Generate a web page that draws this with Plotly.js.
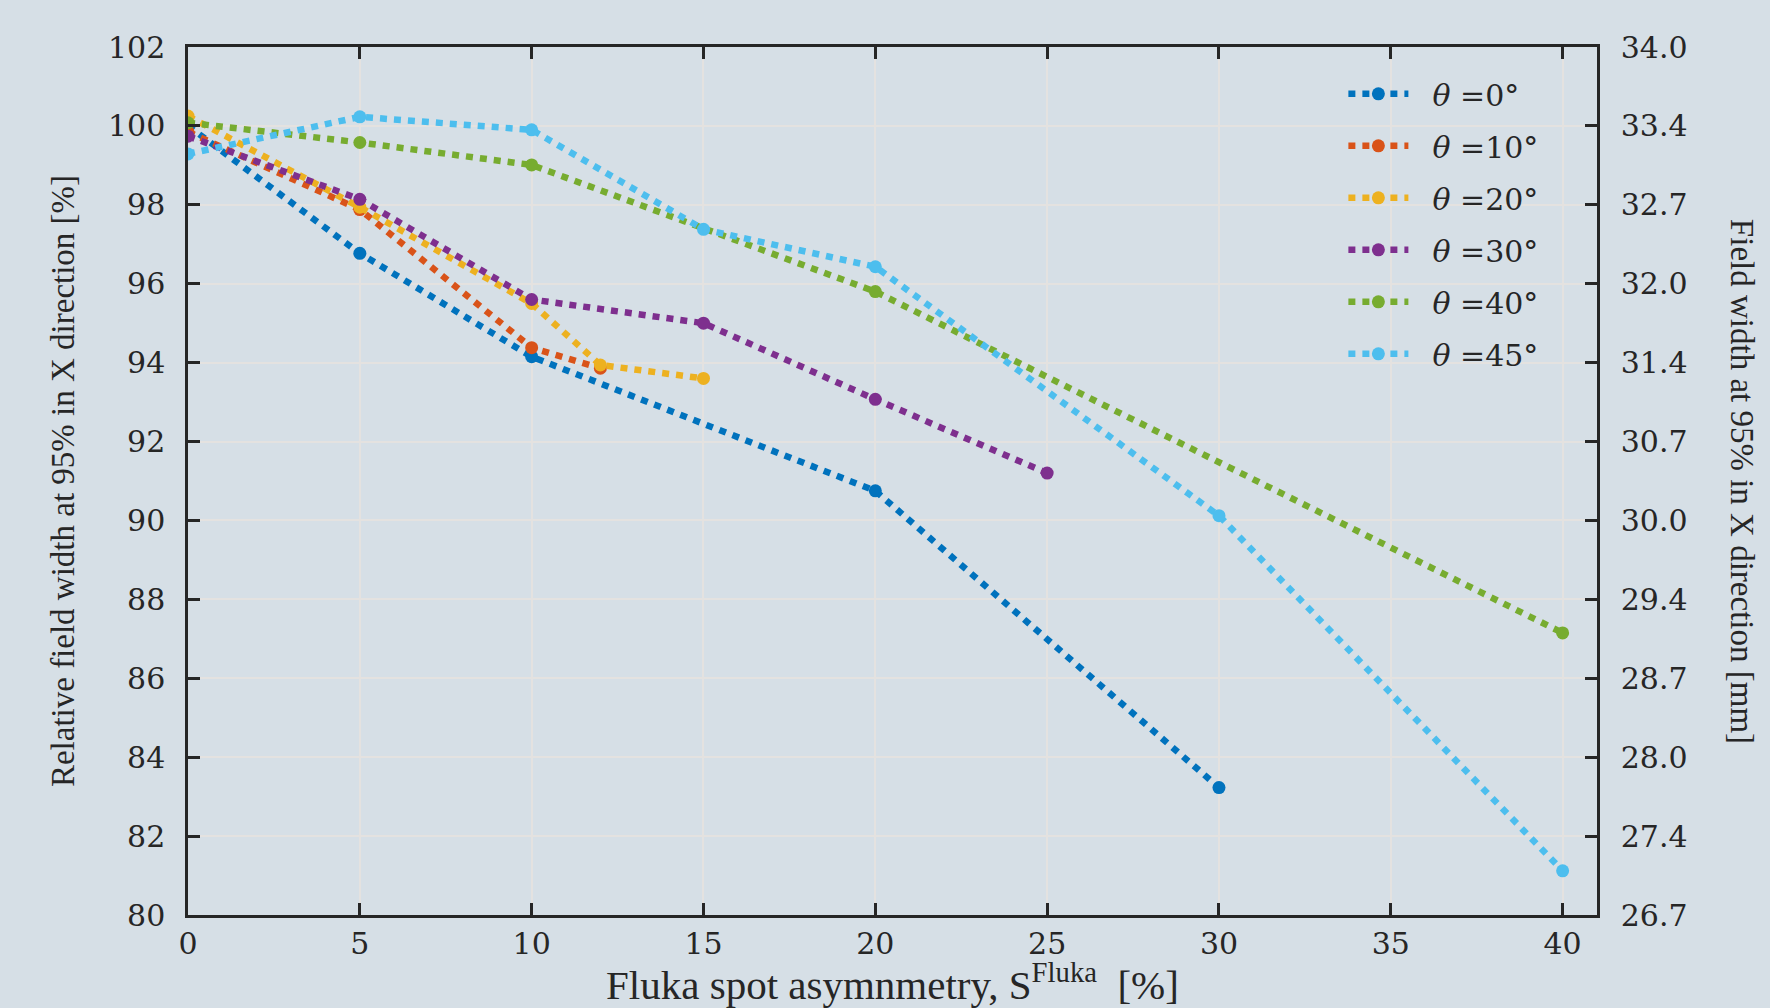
<!DOCTYPE html>
<html>
<head>
<meta charset="utf-8">
<script src="https://cdn.plot.ly/plotly-3.0.1.min.js"></script>
<style>
html,body{margin:0;padding:0;background:#d6dfe6;}
#chart{width:1770px;height:1008px;}
</style>
</head>
<body>
<div id="chart"></div>
<script>
// ---- data ----
const seriesNames = ['<i>θ</i> =0°', '<i>θ</i> =10°', '<i>θ</i> =20°', '<i>θ</i> =30°', '<i>θ</i> =40°', '<i>θ</i> =45°'];
const seriesColors = ['#0072BD', '#D95319', '#EDB120', '#7E2F8E', '#77AC30', '#4DBEEE'];

const theta0X  = [0, 5, 10, 20, 30];
const theta0Y  = [100.0, 96.77, 94.15, 90.75, 83.23];
const theta10X = [0, 5, 10, 12];
const theta10Y = [99.85, 97.88, 94.38, 93.86];
const theta20X = [0, 5, 10, 12, 15];
const theta20Y = [100.25, 97.94, 95.5, 93.94, 93.6];
const theta30X = [0, 5, 10, 15, 20, 25];
const theta30Y = [99.74, 98.14, 95.6, 95.0, 93.07, 91.2];
const theta40X = [0, 5, 10, 20, 40];
const theta40Y = [100.08, 99.58, 99.01, 95.8, 87.15];
const theta45X = [0, 5, 10, 15, 20, 30, 40];
const theta45Y = [99.29, 100.23, 99.9, 97.38, 96.43, 90.12, 81.12];

const xTicks = [0, 5, 10, 15, 20, 25, 30, 35, 40];
const leftTicks = [80, 82, 84, 86, 88, 90, 92, 94, 96, 98, 100, 102];
const rightTickLabels = ['26.7', '27.4', '28.0', '28.7', '29.4', '30.0', '30.7', '31.4', '32.0', '32.7', '33.4', '34.0'];

const allX = [theta0X, theta10X, theta20X, theta30X, theta40X, theta45X];
const allY = [theta0Y, theta10Y, theta20Y, theta30Y, theta40Y, theta45Y];

const axisColor = '#262626';
const tickFont = {family: 'DejaVu Serif', size: 30, color: axisColor};
const titleFont = {family: 'Liberation Serif', size: 33, color: axisColor};
const xTitleFont = {family: 'Liberation Serif', size: 41, color: axisColor};

const traces = allX.map((xs, i) => ({
  type: 'scatter',
  mode: 'lines+markers',
  x: xs,
  y: allY[i],
  name: '\u00a0\u00a0' + seriesNames[i],
  legendgroup: 'g' + i,
  line: {color: seriesColors[i], width: 6.5, dash: '7px,7px'},
  marker: {color: seriesColors[i], size: 13, symbol: 'circle'},
  hoverinfo: 'x+y'
}));

// empty trace to register the right-hand axis
traces.push({type: 'scatter', mode: 'markers', x: [], y: [], yaxis: 'y2', showlegend: false, hoverinfo: 'skip'});

const layout = {
  width: 1770,
  height: 1008,
  paper_bgcolor: '#d6dfe6',
  plot_bgcolor: '#d6dfe6',
  margin: {l: 188, r: 173, t: 47, b: 93},
  showlegend: true,
  legend: {
    x: 0.82, y: 0.976, xanchor: 'left', yanchor: 'top',
    bgcolor: 'rgba(0,0,0,0)',
    font: {family: 'DejaVu Serif', size: 30, color: axisColor},
    tracegroupgap: 10,
    itemwidth: 60
  },
  xaxis: {
    range: [0, 41],
    tickvals: xTicks,
    ticktext: xTicks.map(String),
    ticks: 'inside', ticklen: 12, tickwidth: 2.5, tickcolor: axisColor,
    showline: true, linecolor: axisColor, linewidth: 2.5, mirror: 'ticks',
    showgrid: true, gridcolor: '#e4e2e0', gridwidth: 1.5,
    zeroline: false,
    tickfont: tickFont,
    ticklabelstandoff: 0,
    title: {text: 'Fluka spot asymnmetry, S<sup>Fluka</sup>&nbsp;&nbsp;[%]', font: xTitleFont, standoff: 14},
    automargin: false
  },
  yaxis: {
    range: [80, 102],
    tickvals: leftTicks,
    ticktext: leftTicks.map(String),
    ticks: 'inside', ticklen: 12, tickwidth: 2.5, tickcolor: axisColor,
    showline: true, linecolor: axisColor, linewidth: 2.5, mirror: false,
    showgrid: true, gridcolor: '#e4e2e0', gridwidth: 1.5,
    zeroline: false,
    tickfont: tickFont,
    ticklabelstandoff: 14,
    title: {text: 'Relative field width at 95% in X direction [%]', font: titleFont, standoff: 24},
    automargin: false
  },
  yaxis2: {
    overlaying: 'y',
    side: 'right',
    range: [80, 102],
    tickvals: leftTicks,
    ticktext: rightTickLabels,
    ticks: 'inside', ticklen: 12, tickwidth: 2.5, tickcolor: axisColor,
    showline: true, linecolor: axisColor, linewidth: 2.5,
    showgrid: false, zeroline: false,
    tickfont: tickFont,
    ticklabelstandoff: 15,
    automargin: false
  },
  annotations: [{
    text: 'Field width at 95% in X direction [mm]',
    xref: 'paper', yref: 'paper',
    x: 1.103, y: 0.5,
    xanchor: 'center', yanchor: 'middle',
    textangle: 90,
    showarrow: false,
    font: titleFont
  }]
};

Plotly.newPlot('chart', traces, layout, {displayModeBar: false, responsive: false});
</script>
</body>
</html>
